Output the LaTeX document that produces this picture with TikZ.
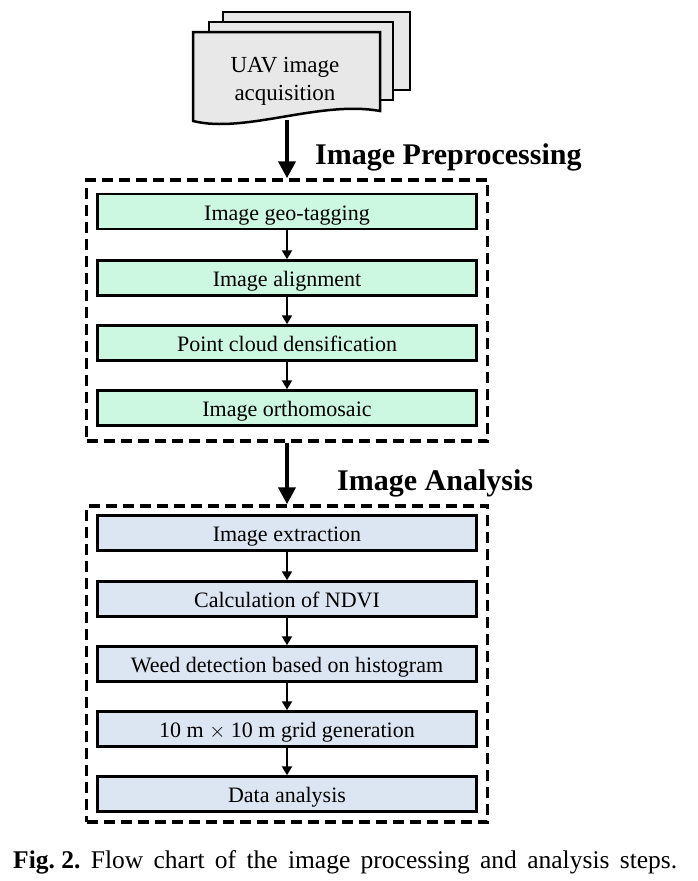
\documentclass[tikz,border=0pt]{standalone}
\usepackage{fontspec}
\setmainfont{Liberation Serif}
\usetikzlibrary{arrows.meta}
\definecolor{docgray}{HTML}{E8E8E8}
\definecolor{stepgreen}{HTML}{CCF7E0}
\definecolor{stepblue}{HTML}{DCE6F2}
\begin{document}
\begin{tikzpicture}[x=1pt,y=-1pt,
  docshape/.style={draw=black,line width=2.5pt,fill=docgray,line join=miter},
  stepbox/.style={draw=black,line width=2.5pt,minimum width=379pt,minimum height=35pt,inner sep=0pt,text height=17pt,text depth=0pt,font=\fontsize{22}{26}\selectfont},
  greenbox/.style={stepbox,fill=stepgreen},
  bluebox/.style={stepbox,fill=stepblue},
  groupbox/.style={draw=black,line width=3.5pt,dash pattern=on 11pt off 6pt,minimum width=401pt,inner sep=0pt},
  bigarrow/.style={line width=4pt,-{Triangle[length=17pt,width=17pt]}},
  smallarrow/.style={line width=2.4pt,-{Triangle[length=9pt,width=10pt]}},
  heading/.style={font=\bfseries\fontsize{30}{34}\selectfont,anchor=base west,inner sep=0pt}
]
\useasboundingbox (0,0) rectangle (697,881);
% document stack
\path[docshape] (223,12) -- (410,12) -- (410,90) -- (223,90) -- cycle;
\path[docshape] (209,22) -- (393,22) -- (393,100) -- (209,100) -- cycle;
\path[docshape] (193,32) -- (380,32) -- (380,111) .. controls (320,100) and (245,134) .. (193,121) -- cycle;
\node[align=center,font=\fontsize{23}{28}\selectfont,inner sep=0pt] (uav) at (285,81) {UAV image\\acquisition};
\coordinate (docbot) at (287,120);

% group 1
\node[groupbox,minimum height=261pt] (g1) at (287,310.5) {};
\node[heading] (h1) at (315,164) {Image Preprocessing};
\node[greenbox] (s1) at (287,211.5) {Image geo-tagging};
\node[greenbox] (s2) at (287,278) {Image alignment};
\node[greenbox] (s3) at (287,343) {Point cloud densification};
\node[greenbox] (s4) at (287,408) {Image orthomosaic};

% group 2
\node[groupbox,minimum height=316pt] (g2) at (287,664) {};
\node[heading] (h2) at (337,490) {Image Analysis};
\node[bluebox] (b1) at (287,533) {Image extraction};
\node[bluebox] (b2) at (287,599) {Calculation of NDVI};
\node[bluebox] (b3) at (287,664) {Weed detection based on histogram};
\node[bluebox] (b4) at (287,729) {10 m $\times$ 10 m grid generation};
\node[bluebox] (b5) at (287,794) {Data analysis};

% arrows
\draw[bigarrow] (docbot) -- (g1.north);
\draw[bigarrow] (g1.south) -- (g2.north);
\draw[smallarrow] (s1) -- (s2);
\draw[smallarrow] (s2) -- (s3);
\draw[smallarrow] (s3) -- (s4);
\draw[smallarrow] (b1) -- (b2);
\draw[smallarrow] (b2) -- (b3);
\draw[smallarrow] (b3) -- (b4);
\draw[smallarrow] (b4) -- (b5);

% caption
\node[anchor=base west,inner sep=0pt,font=\fontsize{25.5}{30}\selectfont] (cap) at (13,868) {\makebox[664pt][s]{\mbox{\textbf{Fig.\ 2.}} Flow chart of the image processing and analysis steps.}};
\end{tikzpicture}
\end{document}
